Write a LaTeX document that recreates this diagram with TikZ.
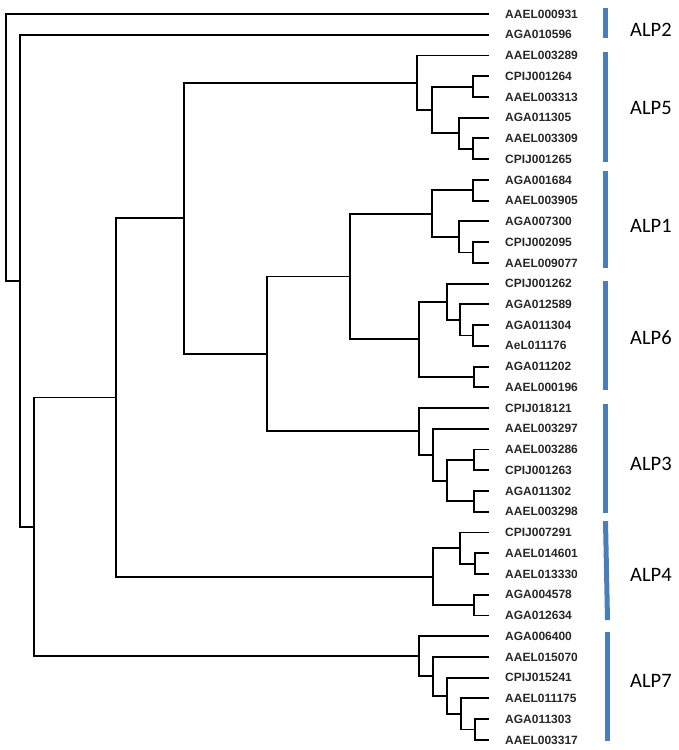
\documentclass[tikz,border=0pt]{standalone}
\usepackage{fontspec}
\setmainfont{Liberation Sans}
\newfontfamily\grpfont{Carlito}
\definecolor{barblue}{RGB}{74,126,187}
\definecolor{leafgray}{RGB}{40,40,40}
\begin{document}
\begin{tikzpicture}[x=1pt,y=-1pt,
  branch/.style={line width=1.9pt,line cap=rect,line join=miter},
  leaflabel/.style={anchor=west,inner sep=0pt,text=leafgray,font=\bfseries\fontsize{12}{14}\selectfont},
  grouplabel/.style={anchor=west,inner sep=0pt,font=\grpfont\fontsize{20.5}{24}\selectfont},
  groupbar/.style={fill=barblue,draw=none}]
\useasboundingbox (0,0) rectangle (679,750);
% leaves
\foreach \name [count=\i from 0] in {AAEL000931,AGA010596,AAEL003289,CPIJ001264,AAEL003313,AGA011305,AAEL003309,CPIJ001265,AGA001684,AAEL003905,AGA007300,CPIJ002095,AAEL009077,CPIJ001262,AGA012589,AGA011304,AeL011176,AGA011202,AAEL000196,CPIJ018121,AAEL003297,AAEL003286,CPIJ001263,AGA011302,AAEL003298,CPIJ007291,AAEL014601,AAEL013330,AGA004578,AGA012634,AGA006400,AAEL015070,CPIJ015241,AAEL011175,AGA011303,AAEL003317}{
  \coordinate (l\i) at (488,{14+20.74*\i});
  \node[leaflabel] (t\i) at (505,{14+20.74*\i}) {\name};
}
% internal nodes
\coordinate (n5c) at (473,86.59);
\coordinate (n5e) at (473,148.81);
\coordinate (n5d) at (459,133.26);
\coordinate (n5b) at (432,109.92);
\coordinate (n5a) at (417,82.70);
\coordinate (n1a) at (473,190.29);
\coordinate (n1c) at (473,252.51);
\coordinate (n1b) at (459,236.96);
\coordinate (n1) at (432,213.62);
\coordinate (n6d) at (473,335.47);
\coordinate (n6c) at (460,319.92);
\coordinate (n6b) at (447,301.77);
\coordinate (n6e) at (474,376.95);
\coordinate (n6) at (419,339.36);
\coordinate (F) at (350,276.49);
\coordinate (n3c) at (474,459.91);
\coordinate (n3d) at (474,501.39);
\coordinate (n3b) at (447,480.65);
\coordinate (n3a) at (433,454.73);
\coordinate (n3) at (419,431.39);
\coordinate (E) at (267,353.94);
\coordinate (D) at (184,218.32);
\coordinate (n4b) at (475,563.61);
\coordinate (n4a) at (460,548.06);
\coordinate (n4c) at (474,605.09);
\coordinate (n4) at (433,576.57);
\coordinate (C) at (116,397.45);
\coordinate (n7d) at (475,729.53);
\coordinate (n7c) at (461,713.98);
\coordinate (n7b) at (447,695.83);
\coordinate (n7a) at (433,676.39);
\coordinate (n7) at (419,656.3);
\coordinate (B) at (34,526.87);
\coordinate (A) at (20,280.8);
\coordinate (R) at (6,147.4);
% branches
\begin{scope}[branch]
\draw (R) |- (l0); \draw (R) |- (A);
\draw (A) |- (l1); \draw (A) |- (B);
\draw (B) |- (C); \draw (B) |- (n7);
\draw (C) |- (D); \draw (C) |- (n4);
\draw (D) |- (n5a); \draw (D) |- (E);
\draw (E) |- (F); \draw (E) |- (n3);
\draw (F) |- (n1); \draw (F) |- (n6);
% ALP5
\draw (n5a) |- (l2); \draw (n5a) |- (n5b);
\draw (n5b) |- (n5c); \draw (n5b) |- (n5d);
\draw (n5c) |- (l3); \draw (n5c) |- (l4);
\draw (n5d) |- (l5); \draw (n5d) |- (n5e);
\draw (n5e) |- (l6); \draw (n5e) |- (l7);
% ALP1
\draw (n1) |- (n1a); \draw (n1) |- (n1b);
\draw (n1a) |- (l8); \draw (n1a) |- (l9);
\draw (n1b) |- (l10); \draw (n1b) |- (n1c);
\draw (n1c) |- (l11); \draw (n1c) |- (l12);
% ALP6
\draw (n6) |- (n6b); \draw (n6) |- (n6e);
\draw (n6b) |- (l13); \draw (n6b) |- (n6c);
\draw (n6c) |- (l14); \draw (n6c) |- (n6d);
\draw (n6d) |- (l15); \draw (n6d) |- (l16);
\draw (n6e) |- (l17); \draw (n6e) |- (l18);
% ALP3
\draw (n3) |- (l19); \draw (n3) |- (n3a);
\draw (n3a) |- (l20); \draw (n3a) |- (n3b);
\draw (n3b) |- (n3c); \draw (n3b) |- (n3d);
\draw (n3c) |- (l21); \draw (n3c) |- (l22);
\draw (n3d) |- (l23); \draw (n3d) |- (l24);
% ALP4
\draw (n4) |- (n4a); \draw (n4) |- (n4c);
\draw (n4a) |- (l25); \draw (n4a) |- (n4b);
\draw (n4b) |- (l26); \draw (n4b) |- (l27);
\draw (n4c) |- (l28); \draw (n4c) |- (l29);
% ALP7
\draw (n7) |- (l30); \draw (n7) |- (n7a);
\draw (n7a) |- (l31); \draw (n7a) |- (n7b);
\draw (n7b) |- (l32); \draw (n7b) |- (n7c);
\draw (n7c) |- (l33); \draw (n7c) |- (n7d);
\draw (n7d) |- (l34); \draw (n7d) |- (l35);
\end{scope}
% group bars
\fill[groupbar] (603,8) rectangle (608,38);
\fill[groupbar] (603,52) rectangle (608,162);
\fill[groupbar] (603,171) rectangle (608,268);
\fill[groupbar] (603,281) rectangle (608,390);
\fill[groupbar] (603,404) rectangle (608,513);
\fill[groupbar] (603,521) -- (608,521) -- (610,620) -- (605,620) -- cycle;
\fill[groupbar] (604.5,632) rectangle (609.5,741);
% group labels
\node[grouplabel] (g2) at (630,30) {ALP2};
\node[grouplabel] (g5) at (630,108) {ALP5};
\node[grouplabel] (g1) at (630,226) {ALP1};
\node[grouplabel] (g6) at (630,338) {ALP6};
\node[grouplabel] (g3) at (630,464) {ALP3};
\node[grouplabel] (g4) at (630,575) {ALP4};
\node[grouplabel] (g7) at (630,681) {ALP7};
\end{tikzpicture}
\end{document}
